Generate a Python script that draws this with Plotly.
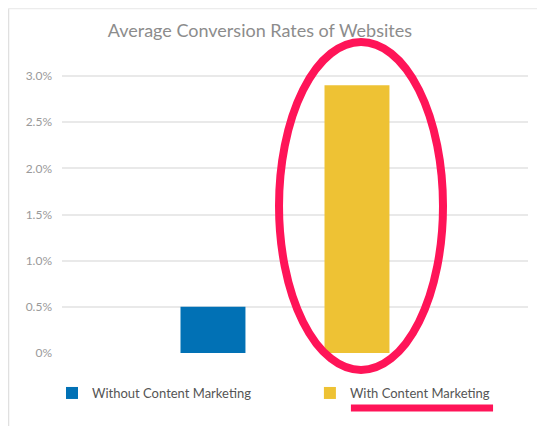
import plotly.graph_objects as go

# dados
series = ["Without Content Marketing", "With Content Marketing"]
rates = [0.5, 2.9]
colors = ["#0171b5", "#eec234"]
tick_vals = [0, 0.5, 1.0, 1.5, 2.0, 2.5, 3.0]
tick_text = ["0%", "0.5%", "1.0%", "1.5%", "2.0%", "2.5%", "3.0%"]

fig = go.Figure()
# cada série tem a sua própria legenda para controlar a posição
for i, (name, val, col) in enumerate(zip(series, rates, colors)):
    fig.add_trace(go.Bar(
        x=[""],
        y=[val],
        name=name,
        legend="legend" if i == 0 else "legend2",
        marker=dict(color=col, line=dict(width=0)),
        hovertemplate="%{y:.1f}%<extra>" + name + "</extra>",
    ))

# destaque vermelho (elipse + sublinhado) e moldura da captura
red = "#ff1458"
shapes = [
    dict(type="circle", xref="paper", yref="paper",
         x0=0.4657, x1=0.8176, y0=-0.060, y1=1.099,
         line=dict(color=red, width=8), layer="above"),
    dict(type="line", xref="paper", yref="paper",
         x0=0.620, x1=0.925, y0=-0.1943, y1=-0.1943,
         line=dict(color=red, width=7), layer="above"),
    dict(type="line", xref="paper", yref="paper",
         x0=-0.1148, x1=-0.1148, y0=1.2173, y1=-0.26,
         line=dict(color="#e0e0e0", width=1.5)),
    dict(type="line", xref="paper", yref="paper",
         x0=-0.1148, x1=1.04, y0=1.2173, y1=1.2173,
         line=dict(color="#ececec", width=1.5)),
]

legend_style = dict(
    orientation="h",
    xanchor="left",
    y=-0.0884, yanchor="top",
    bgcolor="rgba(0,0,0,0)",
    font=dict(size=13, color="#555555"),
    itemclick=False,
)

# a página tem 8px de margem no body, por isso a figura é 537x418
fig.update_layout(
    width=537, height=418,
    margin=dict(l=54, r=17, t=62, b=73),
    paper_bgcolor="white",
    plot_bgcolor="white",
    font=dict(family="Lato, Open Sans, sans-serif"),
    title=dict(
        text="Average Conversion Rates of Websites",
        x=0.469, xanchor="center", xref="container",
        y=0.945, yanchor="middle",
        font=dict(size=18, color="#8c8c8c"),
    ),
    barmode="group",
    bargap=0.382,
    bargroupgap=0.549,
    xaxis=dict(
        range=[-0.4785, 0.5215],
        showticklabels=False, showgrid=False, zeroline=False, showline=False,
        fixedrange=True,
    ),
    yaxis=dict(
        range=[0, 3.066],
        tickvals=tick_vals, ticktext=tick_text,
        tickfont=dict(size=12, color="#9a9a9a"),
        gridcolor="#e9e9e9", gridwidth=1.5,
        zeroline=False, showline=False,
        ticks="", ticklabelstandoff=9,
    ),
    legend=dict(legend_style, x=-0.0215),
    legend2=dict(legend_style, x=0.532),
    shapes=shapes,
    showlegend=True,
)

fig.write_html("out.html")
